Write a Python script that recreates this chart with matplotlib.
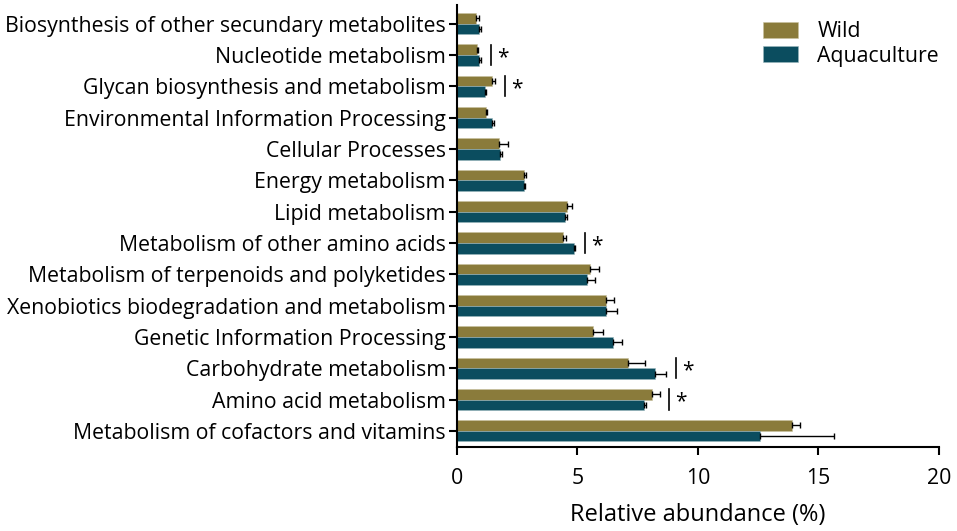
import matplotlib.pyplot as plt
import numpy as np

plt.rcParams['font.family'] = ['Open Sans', 'DejaVu Sans']

# bottom to top
categories = ['Metabolism of cofactors and vitamins',
              'Amino acid metabolism',
              'Carbohydrate metabolism',
              'Genetic Information Processing',
              'Xenobiotics biodegradation and metabolism',
              'Metabolism of terpenoids and polyketides',
              'Metabolism of other amino acids',
              'Lipid metabolism',
              'Energy metabolism',
              'Cellular Processes',
              'Environmental Information Processing',
              'Glycan biosynthesis and metabolism',
              'Nucleotide metabolism',
              'Biosynthesis of other secundary metabolites']

wild = [13.89, 8.11, 7.08, 5.64, 6.18, 5.53, 4.42, 4.57, 2.80, 1.75, 1.19, 1.44, 0.82, 0.78]
wild_err = [0.33, 0.30, 0.71, 0.44, 0.32, 0.35, 0.11, 0.21, 0.07, 0.38, 0.07, 0.14, 0.05, 0.15]
aqua = [12.56, 7.75, 8.23, 6.47, 6.18, 5.39, 4.84, 4.48, 2.79, 1.79, 1.46, 1.16, 0.93, 0.93]
aqua_err = [3.07, 0.11, 0.46, 0.38, 0.46, 0.35, 0.06, 0.09, 0.04, 0.08, 0.07, 0.05, 0.07, 0.07]
significant = [1, 2, 6, 11, 12]

wild_color = '#8a7b3b'
aqua_color = '#0b4d5f'

fig = plt.figure(figsize=(9.57, 5.31), dpi=100)
ax = fig.add_axes([0.4775, 0.158, 0.5035, 0.8326])

y = np.arange(len(categories))
h = 0.34
ekw = dict(ecolor='black', elinewidth=1, capsize=2, capthick=1)
ax.barh(y + h / 2, wild, height=h, color=wild_color, edgecolor='#c9c3a0', linewidth=0.4,
        xerr=[np.zeros(len(wild)), wild_err], error_kw=ekw, label='Wild')
ax.barh(y - h / 2, aqua, height=h, color=aqua_color, edgecolor='#9bb7bd', linewidth=0.4,
        xerr=[np.zeros(len(aqua)), aqua_err], error_kw=ekw, label='Aquaculture')

for i in significant:
    top = max(wild[i] + wild_err[i], aqua[i] + aqua_err[i])
    lx = top + 0.4
    ax.plot([lx, lx], [i - 0.32, i + 0.32], color='black', lw=1.2)
    ax.text(lx + 0.5, i - 0.08, '*', ha='center', va='center', fontsize=15)

ax.set_xlim(0, 20)
ax.set_ylim(-0.52, 13.6)
ax.set_xticks([0, 5, 10, 15, 20])
ax.set_yticks(y)
ax.set_yticklabels(categories)
ax.tick_params(axis='both', labelsize=15.3, width=1.5, length=6, direction='out')
ax.tick_params(axis='x', pad=9)
ax.tick_params(axis='y', pad=2)
ax.spines['top'].set_visible(False)
ax.spines['right'].set_visible(False)
ax.spines['left'].set_linewidth(1.5)
ax.spines['bottom'].set_linewidth(1.5)
ax.set_xlabel('Relative abundance (%)', fontsize=17, labelpad=10)

ax.legend(loc='upper right', bbox_to_anchor=(1.0, 0.963), frameon=False, fontsize=15.3,
          handlelength=1.65, handleheight=0.8, labelspacing=0.15, handletextpad=0.9,
          borderpad=0, borderaxespad=0)

plt.savefig('out.png', dpi=100)
